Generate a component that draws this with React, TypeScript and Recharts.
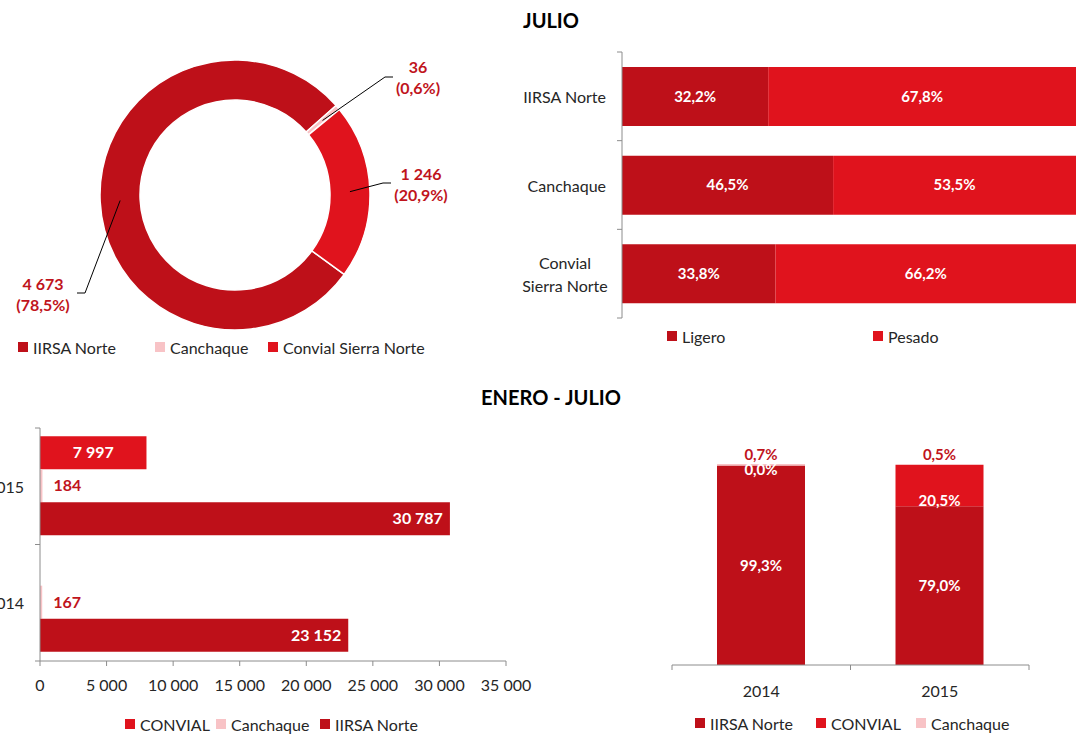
import React from "react";
import { PieChart, Pie, Cell, BarChart, Bar, XAxis, YAxis, LabelList } from "recharts";

const FONT = "Lato, 'Open Sans', sans-serif";
const DARK = "#BE1019";
const RED = "#E0131D";
const PINK = "#F8C3C6";
const LABEL_RED = "#C0141C";
const AXIS = "#8C8C8C";
const TEXT = "#262626";

// JULIO: total by road
const julioRoads = ["IIRSA Norte", "Canchaque", "Convial Sierra Norte"];
const julioTotals = [4673, 36, 1246];
const julioShares = [78.5, 0.6, 20.9];

// JULIO: light vs heavy vehicles (%)
const typeRoads = ["IIRSA Norte", "Canchaque", "Convial Sierra Norte"];
const ligeroPct = [32.2, 46.5, 33.8];
const pesadoPct = [67.8, 53.5, 66.2];

// ENERO - JULIO: totals by year
const years = ["2015", "2014"];
const convialTotals = [7997, null];
const canchaqueTotals = [184, 167];
const iirsaTotals = [30787, 23152];
const totalTicks = [0, 5000, 10000, 15000, 20000, 25000, 30000, 35000];

// ENERO - JULIO: share by year (%)
const shareYears = ["2014", "2015"];
const iirsaPct = [99.3, 79.0];
const convialPct = [0.0, 20.5];
const canchaquePct = [0.7, 0.5];

const fmtInt = (v: number) => String(v).replace(/\B(?=(\d{3})+(?!\d))/g, " ");
const fmtPct = (v: number) => v.toFixed(1).replace(".", ",") + "%";

const donutData = julioRoads.map((name, i) => ({ name, value: julioTotals[i], share: julioShares[i] }));
const donutColors = [DARK, PINK, RED];
// where each leader line bends (relative to the donut centre) and where its text sits
const donutElbows = [
  { dx: -150, dy: 98, side: -1, tdx: -34, tdy: 0 },
  { dx: 150, dy: -118, side: 1, tdx: 25, tdy: -1 },
  { dx: 148, dy: -12, side: 1, tdx: 30, tdy: 0 },
];

const typeData = typeRoads.map((road, i) => ({ road, ligero: ligeroPct[i], pesado: pesadoPct[i] }));
const totalData = years.map((year, i) => ({
  year,
  convial: convialTotals[i],
  canchaque: canchaqueTotals[i],
  iirsa: iirsaTotals[i],
}));
const shareData = shareYears.map((year, i) => ({
  year,
  iirsa: iirsaPct[i],
  convial: convialPct[i],
  canchaque: canchaquePct[i],
}));

const renderDonutLabel = (p: any) => {
  const { cx, cy, midAngle, innerRadius, outerRadius, index } = p;
  const RAD = Math.PI / 180;
  const r = (innerRadius + outerRadius) / 2;
  const sx = cx + r * Math.cos(-midAngle * RAD);
  const sy = cy + r * Math.sin(-midAngle * RAD);
  const e = donutElbows[index];
  const ex = cx + e.dx;
  const ey = cy + e.dy;
  const hx = ex + e.side * 8;
  const tx = hx + e.tdx;
  const ty = ey + e.tdy;
  const d = donutData[index];
  return (
    <g>
      <polyline points={`${sx},${sy} ${ex},${ey} ${hx},${ey}`} fill="none" stroke="#000" strokeWidth={1} />
      <text x={tx} y={ty - 10} textAnchor="middle" dominantBaseline="central" fill={LABEL_RED} fontSize={16} fontWeight={700}>
        {fmtInt(d.value)}
      </text>
      <text x={tx} y={ty + 11} textAnchor="middle" dominantBaseline="central" fill={LABEL_RED} fontSize={16} fontWeight={700}>
        ({fmtPct(d.share)})
      </text>
    </g>
  );
};

// category tick with Excel-style marks on the band edges (left axis)
const LeftBandTick = (props: any) => {
  const { x, y, payload, index, visibleTicksCount } = props;
  const off = payload?.offset ?? 0;
  const label = String(payload.value);
  const lines = label.length > 12 ? [label.slice(0, label.indexOf(" ")), label.slice(label.indexOf(" ") + 1)] : [label];
  return (
    <g>
      <line x1={x - 5} y1={y - off} x2={x} y2={y - off} stroke={AXIS} />
      {index === visibleTicksCount - 1 && <line x1={x - 5} y1={y + off} x2={x} y2={y + off} stroke={AXIS} />}
      {lines.length === 1 ? (
        <text x={x - 16} y={y} textAnchor="end" dominantBaseline="central" fill={TEXT} fontSize={16}>
          {label}
        </text>
      ) : (
        lines.map((ln, i) => (
          <text key={ln} x={x - 57} y={y - 11 + i * 23} textAnchor="middle" dominantBaseline="central" fill={TEXT} fontSize={16}>
            {ln}
          </text>
        ))
      )}
    </g>
  );
};

const BottomBandTick = (props: any) => {
  const { x, y, payload, index, visibleTicksCount } = props;
  const off = payload?.offset ?? 0;
  return (
    <g>
      <line x1={x - off} y1={y} x2={x - off} y2={y + 5} stroke={AXIS} />
      {index === visibleTicksCount - 1 && <line x1={x + off} y1={y} x2={x + off} y2={y + 5} stroke={AXIS} />}
      <text x={x} y={y + 25} textAnchor="middle" dominantBaseline="central" fill={TEXT} fontSize={16}>
        {payload.value}
      </text>
    </g>
  );
};

// CONVIAL share label, hung off the IIRSA segment so that a 0 % share still gets its label
const ConvialShareLabel = (p: any) => {
  const vb = p.viewBox ?? p;
  const { x, y, width, height } = vb;
  const row = shareData[p.index];
  if (!row) return null;
  const pxPerUnit = height / row.iirsa;
  const h = row.convial * pxPerUnit;
  const top = y - h;
  const cy = Math.max(top + 4, y - 6);
  return (
    <text x={x + width / 2} y={cy} textAnchor="middle" dominantBaseline="central" fill="#fff" fontSize={15} fontWeight={700}>
      {fmtPct(row.convial)}
    </text>
  );
};

function LegendRow({ top, items }: { top: number; items: { label: string; color: string; left: number }[] }) {
  return (
    <>
      {items.map((it) => (
        <div
          key={it.label}
          style={{ position: "absolute", left: it.left, top, height: 20, display: "flex", alignItems: "center", fontSize: 16, color: TEXT, whiteSpace: "nowrap" }}
        >
          <span style={{ width: 10, height: 10, background: it.color, marginRight: 5, display: "inline-block" }} />
          {it.label}
        </div>
      ))}
    </>
  );
}

const titleStyle: React.CSSProperties = {
  position: "absolute",
  left: 551,
  transform: "translateX(-50%)",
  fontWeight: 700,
  fontSize: 20,
  color: "#000",
  lineHeight: "24px",
  whiteSpace: "nowrap",
};

export default function App() {
  return (
    <div style={{ position: "absolute", left: 0, top: 0, width: 1076, height: 734, background: "#fff", overflow: "hidden", fontFamily: FONT }}>
      <div style={{ ...titleStyle, top: 8 }}>JULIO</div>
      <div style={{ ...titleStyle, top: 385 }}>ENERO - JULIO</div>

      <div style={{ position: "absolute", left: 0, top: 40 }}>
        <PieChart width={460} height={300} style={{ fontFamily: FONT }}>
          <Pie
            data={donutData}
            dataKey="value"
            cx={230}
            cy={150}
            innerRadius={95}
            outerRadius={135}
            startAngle={-36}
            endAngle={-396}
            stroke="#fff"
            strokeWidth={1.5}
            label={renderDonutLabel}
            labelLine={false}
            isAnimationActive={false}
          >
            {donutData.map((d, i) => (
              <Cell key={d.name} fill={donutColors[i]} />
            ))}
          </Pie>
        </PieChart>
      </div>
      <LegendRow
        top={337}
        items={[
          { label: julioRoads[0], color: DARK, left: 18 },
          { label: julioRoads[1], color: PINK, left: 155 },
          { label: julioRoads[2], color: RED, left: 268 },
        ]}
      />

      <div style={{ position: "absolute", left: 460, top: 40 }}>
        <BarChart width={616} height={280} data={typeData} layout="vertical" margin={{ top: 12, right: 0, bottom: 2, left: 0 }} style={{ fontFamily: FONT }}>
          <XAxis type="number" domain={[0, 100]} hide />
          <YAxis
            type="category"
            dataKey="road"
            width={162}
            axisLine={{ stroke: AXIS }}
            tickLine={false}
            tickSize={0}
            tickMargin={0}
            tick={LeftBandTick}
          />
          <Bar dataKey="ligero" stackId="a" fill={DARK} barSize={59} isAnimationActive={false}>
            <LabelList dataKey="ligero" position="center" fill="#fff" fontSize={15} fontWeight={700} formatter={(v: any) => fmtPct(Number(v))} />
          </Bar>
          <Bar dataKey="pesado" stackId="a" fill={RED} barSize={59} isAnimationActive={false}>
            <LabelList dataKey="pesado" position="center" fill="#fff" fontSize={15} fontWeight={700} formatter={(v: any) => fmtPct(Number(v))} />
          </Bar>
        </BarChart>
      </div>
      <LegendRow
        top={326}
        items={[
          { label: "Ligero", color: DARK, left: 667 },
          { label: "Pesado", color: RED, left: 873 },
        ]}
      />

      <div style={{ position: "absolute", left: 0, top: 420 }}>
        <BarChart
          width={600}
          height={280}
          data={totalData}
          layout="vertical"
          margin={{ top: 8, right: 94, bottom: 9, left: 0 }}
          barCategoryGap="7%"
          barGap={0}
          style={{ fontFamily: FONT }}
        >
          <XAxis
            type="number"
            domain={[0, 35000]}
            ticks={totalTicks}
            height={30}
            axisLine={{ stroke: AXIS }}
            tickLine={{ stroke: AXIS }}
            tickSize={5}
            tickMargin={14}
            tick={{ fill: TEXT, fontSize: 16 }}
            tickFormatter={(v: number) => fmtInt(v)}
          />
          <YAxis
            type="category"
            dataKey="year"
            width={40}
            axisLine={{ stroke: AXIS }}
            tickLine={false}
            tickSize={0}
            tickMargin={0}
            tick={LeftBandTick}
          />
          <Bar dataKey="convial" fill={RED} isAnimationActive={false}>
            <LabelList dataKey="convial" position="center" fill="#fff" fontSize={16} fontWeight={700} formatter={(v: any) => (v == null ? "" : fmtInt(Number(v)))} />
          </Bar>
          <Bar dataKey="canchaque" fill={PINK} isAnimationActive={false}>
            <LabelList dataKey="canchaque" position="right" offset={11} fill={LABEL_RED} fontSize={16} fontWeight={700} formatter={(v: any) => fmtInt(Number(v))} />
          </Bar>
          <Bar dataKey="iirsa" fill={DARK} isAnimationActive={false}>
            <LabelList dataKey="iirsa" position="insideRight" offset={7} fill="#fff" fontSize={16} fontWeight={700} formatter={(v: any) => fmtInt(Number(v))} />
          </Bar>
        </BarChart>
      </div>
      <LegendRow
        top={714}
        items={[
          { label: "CONVIAL", color: RED, left: 125 },
          { label: "Canchaque", color: PINK, left: 216 },
          { label: "IIRSA Norte", color: DARK, left: 320 },
        ]}
      />

      <div style={{ position: "absolute", left: 660, top: 430 }}>
        <BarChart width={416} height={280} data={shareData} margin={{ top: 34, right: 47, bottom: 9, left: 12 }} style={{ fontFamily: FONT }}>
          <XAxis
            dataKey="year"
            height={36}
            axisLine={{ stroke: AXIS }}
            tickLine={false}
            tickSize={0}
            tickMargin={0}
            tick={BottomBandTick}
          />
          <YAxis type="number" domain={[0, 100]} hide />
          <Bar dataKey="iirsa" stackId="s" fill={DARK} barSize={88} isAnimationActive={false}>
            <LabelList dataKey="iirsa" position="center" fill="#fff" fontSize={15} fontWeight={700} formatter={(v: any) => fmtPct(Number(v))} />
            <LabelList dataKey="convial" content={ConvialShareLabel} />
          </Bar>
          <Bar dataKey="convial" stackId="s" fill={RED} barSize={88} isAnimationActive={false} />
          <Bar dataKey="canchaque" stackId="s" fill={PINK} barSize={88} isAnimationActive={false}>
            <LabelList dataKey="canchaque" position="top" offset={4} fill={LABEL_RED} fontSize={15} fontWeight={700} formatter={(v: any) => fmtPct(Number(v))} />
          </Bar>
        </BarChart>
      </div>
      <LegendRow
        top={713}
        items={[
          { label: "IIRSA Norte", color: DARK, left: 695 },
          { label: "CONVIAL", color: RED, left: 816 },
          { label: "Canchaque", color: PINK, left: 916 },
        ]}
      />
    </div>
  );
}
